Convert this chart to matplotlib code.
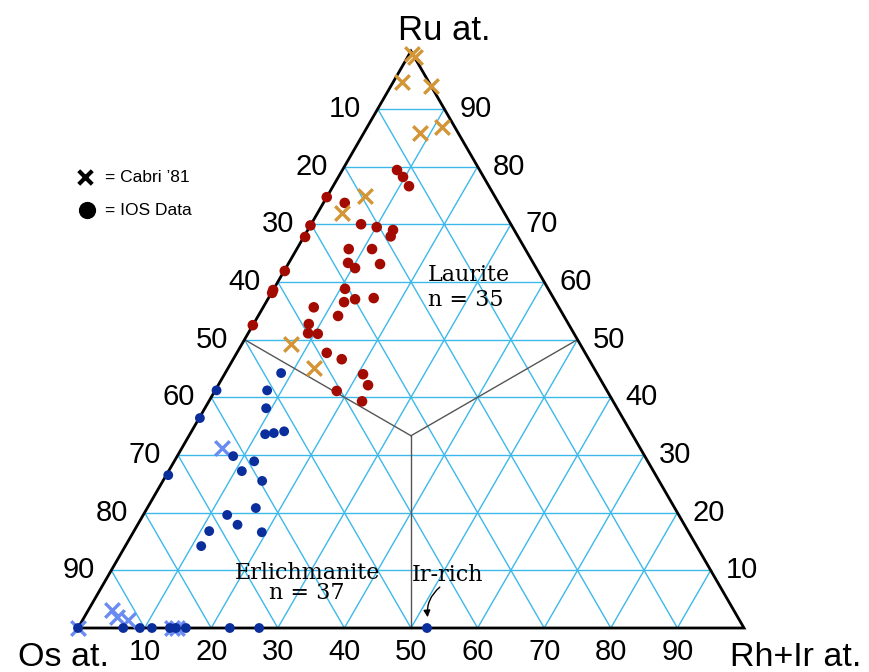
import matplotlib.pyplot as plt
import numpy as np

plt.rcParams["font.family"] = ["Liberation Sans", "DejaVu Sans"]

# ternary values, (Ru %, Rh+Ir %), Os = rest
cabri_ru = [99.6, 99.0, 94.6, 93.9, 85.8, 86.8, 74.9, 71.9, 49.2, 45.1]
cabri_rhir = [0.4, 1.1, 1.4, 6.0, 8.4, 11.2, 5.6, 3.7, 7.4, 12.9]

cabri_os_ru = [31.2, 0.0, 3.1, 1.9, 1.4, 0.0, 0.0]
cabri_os_rhir = [6.0, 0.0, 3.6, 4.9, 6.8, 14.1, 14.9]

laurite_ru = [79.4, 78.2, 76.6, 74.7, 73.7, 69.8, 70.0, 69.5, 69.0, 67.9,
              67.8, 65.7, 65.7, 63.3, 62.4, 63.1, 61.9, 58.6, 58.1, 58.8,
              56.5, 57.0, 57.2, 55.6, 54.1, 52.7, 51.1, 51.0, 52.5, 47.7,
              46.6, 44.0, 42.1, 41.1, 39.3]
laurite_rhir = [8.2, 9.7, 11.4, 0.0, 3.2, 0.0, 7.5, 10.1, 12.8, 13.0,
                0.2, 7.8, 11.3, 8.9, 10.4, 13.8, 0.1, 0.0, 0.1, 10.7,
                11.7, 13.1, 15.8, 7.6, 12.0, 8.3, 9.0, 10.5, 0.0, 13.5,
                16.3, 20.8, 22.5, 18.3, 23.0]

erlich_ru = [44.2, 41.2, 38.1, 41.2, 36.4, 33.6, 33.8, 34.1, 29.8, 28.9,
             27.2, 25.5, 26.5, 20.8, 19.6, 17.9, 16.8, 16.6, 14.2,
             0, 0, 0, 0, 0, 0, 0, 0, 0, 0]
erlich_rhir = [8.4, 7.8, 9.2, 0.2, 0.1, 11.3, 12.5, 13.9, 8.4, 12.0,
               11.0, 14.9, 0.3, 16.3, 12.6, 15.0, 11.3, 19.3, 11.4,
               0.0, 6.8, 9.3, 11.1, 13.8, 14.7, 16.2, 22.8, 27.2, 52.4]

ticks = [10, 20, 30, 40, 50, 60, 70, 80, 90]

H = np.sqrt(3) / 2


def xy(ru, rhir):
    ru = np.asarray(ru, dtype=float) / 100
    rhir = np.asarray(rhir, dtype=float) / 100
    return rhir + ru / 2, ru * H


fig = plt.figure(figsize=(8.7, 6.72), dpi=100)
ax = fig.add_axes([0, 0, 1, 1])
ax.set_xlim(-78 / 666, 792 / 666)
ax.set_ylim(-44 / 666, 628 / 666)
ax.axis("off")

grid_c = "#3DB8EA"
for t in ticks:
    # constant Ru
    x, y = xy([t, t], [0, 100 - t])
    ax.plot(x, y, color=grid_c, lw=1, zorder=1)
    # constant Rh+Ir
    x, y = xy([0, 100 - t], [t, t])
    ax.plot(x, y, color=grid_c, lw=1, zorder=1)
    # constant Os
    x, y = xy([0, 100 - t], [100 - t, 0])
    ax.plot(x, y, color=grid_c, lw=1, zorder=1)

# field boundaries
cx, cy = xy(100 / 3, 100 / 3)
for ru, rh in [(50, 0), (50, 50), (0, 50)]:
    x, y = xy(ru, rh)
    ax.plot([x, cx], [y, cy], color="#555555", lw=1, zorder=2)

# outline
x, y = xy([0, 0, 100, 0], [0, 100, 0, 0])
ax.plot(x, y, color="black", lw=2, zorder=3, solid_joinstyle="miter")

# tick labels
for t in ticks:
    x, y = xy(t, 0)
    ax.text(x - 33 / 666, y, str(100 - t), fontsize=21, ha="center", va="center")
    x, y = xy(t, 100 - t)
    ax.text(x + 31 / 666, y, str(t), fontsize=21, ha="center", va="center")
    x, y = xy(0, t)
    ax.text(x, y - 24 / 666, str(t), fontsize=21, ha="center", va="center")

ax.text(0.5495, 0.8964, "Ru at.", fontsize=25, ha="center", va="center")
ax.text(-0.022, -0.045, "Os at.", fontsize=24.5, ha="center", va="center")
ax.text(1.077, -0.045, "Rh+Ir at.", fontsize=24.5, ha="center", va="center")

# data
x, y = xy(laurite_ru, laurite_rhir)
ax.scatter(x, y, s=58, color="#A30A00", edgecolors="none", zorder=5)
x, y = xy(erlich_ru, erlich_rhir)
ax.scatter(x, y, s=50, color="#0A2E9C", edgecolors="none", zorder=5)
x, y = xy(cabri_ru, cabri_rhir)
ax.scatter(x, y, s=110, marker="x", color="#D39536", linewidths=2.4, zorder=6)
x, y = xy(cabri_os_ru, cabri_os_rhir)
ax.scatter(x, y, s=110, marker="x", color="#6A8BF2", linewidths=2.4, zorder=4)

# legend
ax.scatter([0.0105], [0.677], s=95, marker="x", color="black", linewidths=3)
ax.text(0.0405, 0.677, "= Cabri \u201981", fontsize=12.5, va="center")
ax.scatter([0.0135], [0.6276], s=130, color="black")
ax.text(0.0405, 0.6276, "= IOS Data", fontsize=12.5, va="center")

# field labels
ax.text(0.5255, 0.5113, "Laurite\nn = 35", family="DejaVu Serif", fontsize=16,
        ha="left", va="center", linespacing=1.15)
ax.text(0.344, 0.068, "Erlichmanite\nn = 37", family="DejaVu Serif", fontsize=16,
        ha="center", va="center", linespacing=0.9)
ax.text(0.5015, 0.0796, "Ir-rich", family="DejaVu Serif", fontsize=16,
        ha="left", va="center")
ax.annotate("", xy=(0.5255, 0.012), xytext=(0.5465, 0.064),
            arrowprops=dict(arrowstyle="-|>", color="black", lw=1,
                            mutation_scale=10,
                            connectionstyle="arc3,rad=0.3"))

plt.savefig("out.png", dpi=100)
